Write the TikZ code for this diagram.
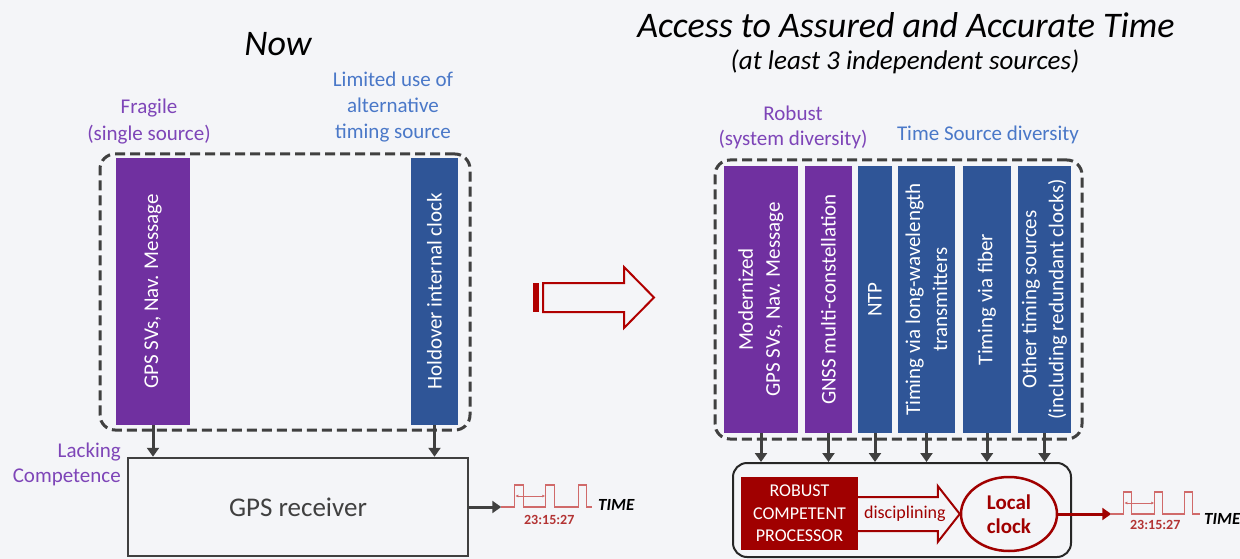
\documentclass[tikz,border=0pt]{standalone}
\usepackage{fontspec}
\setmainfont{Carlito}
\usetikzlibrary{arrows.meta,shapes.geometric,calc}
\definecolor{bg}{HTML}{F4F5F8}
\definecolor{purpbar}{HTML}{7030A0}
\definecolor{bluebar}{HTML}{2F5597}
\definecolor{purptxt}{HTML}{7E45B8}
\definecolor{bluetxt}{HTML}{4A78C8}
\definecolor{dgray}{HTML}{404040}
\definecolor{dred}{HTML}{A00000}
\definecolor{bigred}{HTML}{B00000}
\definecolor{pulsec}{HTML}{D06A6A}
\newcommand{\fsz}[2]{\fontsize{#1}{#2}\selectfont}
\begin{document}
\begin{tikzpicture}[x=1pt,y=-1pt,
  bar/.style={rotate=90, text=white, align=center, inner sep=0pt, draw=none, font=\fsz{21}{27}},
  dashbox/.style={draw=dgray, line width=3pt, dash pattern=on 10pt off 5pt, rounded corners=15pt},
  feed/.style={draw=dgray, line width=3pt, -{Triangle[length=9pt,width=12pt]}},
  lbl/.style={align=center, inner sep=0pt, font=\fsz{21}{26}},
  titlestyle/.style={inner sep=0pt, font=\fsz{36}{40}\itshape},
  subtitlestyle/.style={inner sep=0pt, font=\fsz{27}{30}\itshape},
  rxbox/.style={draw=dgray, line width=2.5pt, minimum width=340pt, minimum height=98pt, text=dgray, font=\fsz{27}{32}},
  procbox/.style={draw=black!85, line width=2pt, rounded corners=14pt, minimum width=338pt, minimum height=94pt},
  cpubox/.style={fill=dred, text=white, align=center, minimum width=117pt, minimum height=73pt, inner sep=0pt, font=\fsz{18}{22.5}},
  clockell/.style={ellipse, draw=dred, line width=2.5pt, minimum width=96pt, minimum height=74pt, text=dred, align=center, inner sep=0pt, font=\fsz{21}{24}\bfseries},
  hollow/.style={draw=dred, line width=2pt, line join=miter},
  redarr/.style={draw=dred, line width=3pt, -{Triangle[length=9pt,width=12pt]}},
  pulsel/.style={draw=pulsec, line width=1.2pt},
  period/.style={draw=pulsec, line width=0.8pt, {Latex[length=3pt,width=3pt]}-{Latex[length=3pt,width=3pt]}},
  stamp/.style={text=dred!80, inner sep=0pt, font=\fsz{14}{16}\bfseries},
  timelbl/.style={inner sep=0pt, font=\fsz{17}{20}\bfseries\itshape}
]
\fill[bg] (0,0) rectangle (1240,559);
\useasboundingbox (0,0) rectangle (1240,559);

% ---------- titles ----------
\node[titlestyle] (now) at (278,44) {Now};
\node[titlestyle] (acc) at (906,25) {Access to Assured and Accurate Time};
\node[subtitlestyle] (sub) at (905,62) {(at least 3 independent sources)};

% ---------- left: now ----------
\node[dashbox, minimum width=370pt, minimum height=276pt] (dl) at (285,292) {};
\node[bar, fill=purpbar, minimum width=267pt, minimum height=74pt] (gps) at (153,291.5) {GPS SVs, Nav. Message};
\node[bar, fill=bluebar, minimum width=267pt, minimum height=47pt] (hold) at (434.5,291.5) {Holdover internal clock};
\node[lbl, text=purptxt, font=\fsz{21}{27}] (frag) at (149,121.5) {Fragile\\(single source)};
\node[lbl, text=bluetxt] (lim) at (393,107) {Limited use of\\alternative\\timing source};
\node[rxbox] (rx) at (298,507) {GPS receiver};
\node[lbl, text=purptxt, align=right, anchor=east, font=\fsz{21}{25}] (lack) at (121,464.5) {Lacking\\Competence};
\draw[feed] (gps.west) -- (gps.west |- rx.north);
\draw[feed] (hold.west) -- (hold.west |- rx.north);
\path (rx.east) ++(32,0) coordinate (p1);
\draw[feed] (rx.east) -- (p1);
\draw[pulsel] (p1) -- ++(13,0) -- ++(0,-22) -- ++(9,0) -- ++(0,22) -- ++(22,0) -- ++(0,-22) -- ++(9,0) -- ++(0,22) -- ++(24,0) -- ++(0,-22) -- ++(8,0) -- ++(0,22) -- ++(6,0);
\draw[period] ($(p1)+(14,-11)$) -- ($(p1)+(44,-11)$);
\node[stamp] (st1) at ($(p1)+(48,13)$) {23:15:27};
\node[timelbl] (t1) at ($(p1)+(115,-2)$) {TIME};

% ---------- centre arrow ----------
\fill[bigred] (533,283) rectangle (539,312);
\draw[draw=bigred, line width=2pt, line join=miter] (543,283) -- (624,283) -- (624,267) -- (654,297.5) -- (624,328) -- (624,312) -- (543,312) -- cycle;

% ---------- right: future ----------
\node[dashbox, minimum width=367pt, minimum height=279pt] (dr) at (898.5,299.5) {};
\node[bar, fill=purpbar, minimum width=267pt, minimum height=74pt] (b1) at (761,299.5) {Modernized\\GPS SVs, Nav. Message};
\node[bar, fill=purpbar, minimum width=267pt, minimum height=47pt] (b2) at (828.5,299.5) {GNSS multi-constellation};
\node[bar, fill=bluebar, minimum width=267pt, minimum height=34pt] (b3) at (875,299.5) {NTP};
\node[bar, fill=bluebar, minimum width=267pt, minimum height=57pt] (b4) at (926.5,299.5) {Timing via long-wavelength\\transmitters};
\node[bar, fill=bluebar, minimum width=267pt, minimum height=48pt] (b5) at (987,299.5) {Timing via fiber};
\node[bar, fill=bluebar, minimum width=267pt, minimum height=53pt] (b6) at (1044.5,299.5) {Other timing sources\\(including redundant clocks)};
\node[lbl, text=purptxt, font=\fsz{21}{25}] (rob) at (793,127.5) {Robust\\(system diversity)};
\node[lbl, text=bluetxt] (tsd) at (988,135) {Time Source diversity};

\node[procbox] (proc) at (902,510) {};
\node[cpubox] (cpu) at (799.5,513.5) {ROBUST\\COMPETENT\\PROCESSOR};
\node[clockell] (clk) at (1009,514) {Local\\clock};
\foreach \b in {b1,b2,b3,b4,b5,b6}{
  \draw[feed] (\b.west) -- (\b.west |- proc.north);
}
% disciplining hollow arrow
\coordinate (dtail) at (cpu.east |- clk.west);
\coordinate (dtip) at (clk.west);
\draw[hollow] ($(dtail)+(0,-17)$) -- ($(dtip)+(-22,-17)$) -- ($(dtip)+(-22,-28)$) -- (dtip) -- ($(dtip)+(-22,28)$) -- ($(dtip)+(-22,17)$) -- ($(dtail)+(0,17)$);
\node[text=dred, inner sep=0pt, font=\fsz{18}{20}] (dlab) at ($(dtail)!0.46!(dtip)$) {disciplining};

\path (clk.east) ++(53,0) coordinate (q1);
\draw[redarr] (clk.east) -- (q1);
\draw[pulsel] (q1) -- ++(12,0) -- ++(0,-22) -- ++(8,0) -- ++(0,22) -- ++(23,0) -- ++(0,-22) -- ++(8,0) -- ++(0,22) -- ++(22,0) -- ++(0,-22) -- ++(8,0) -- ++(0,22) -- ++(8,0);
\draw[period] ($(q1)+(13,-11)$) -- ($(q1)+(43,-11)$);
\node[stamp] (st2) at ($(q1)+(44,11)$) {23:15:27};
\node[timelbl] (t2) at ($(q1)+(111,5)$) {TIME};
\end{tikzpicture}
\end{document}
